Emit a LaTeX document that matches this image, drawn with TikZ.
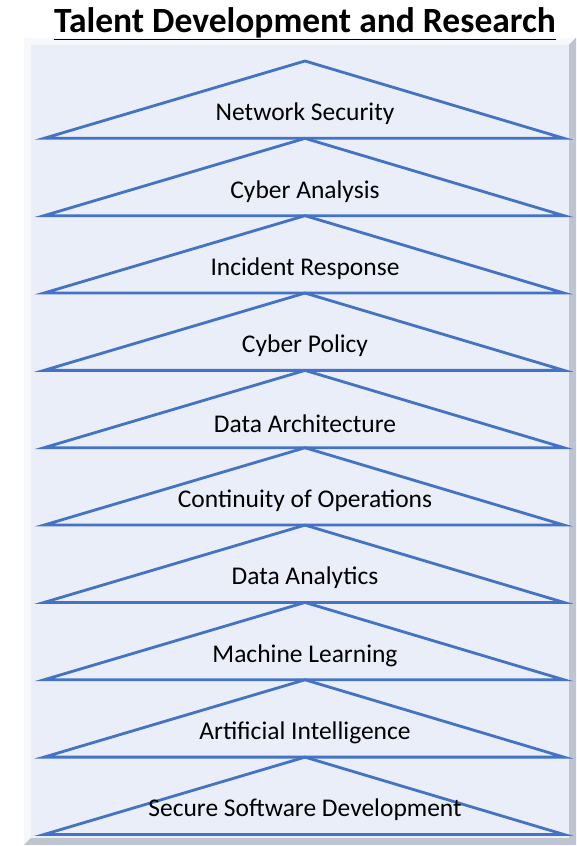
\documentclass[tikz,border=0pt]{standalone}
\usepackage{fontspec}
\setmainfont{Carlito}
\usetikzlibrary{positioning}

\definecolor{lineablue}{RGB}{68,114,196}
\definecolor{fondo}{RGB}{233,238,249}
\definecolor{bisel}{RGB}{190,196,208}
\definecolor{biselclaro}{RGB}{246,248,252}

\begin{document}
\begin{tikzpicture}[x=1pt,y=1pt,node distance=77.35pt,
                  tri/.style={draw=lineablue,line width=2.8pt,line join=miter},
                  etiqueta/.style={font=\fontsize{25.5}{27}\selectfont,inner sep=0pt}]
                  \useasboundingbox (0,0) rectangle (576,846);

                  % Marco con bisel.
                  \fill[bisel!80!black] (24,1) rectangle (576,808);
                  \fill[biselclaro] (24,1) -- (24,808) -- (576,808) -- (569,801) -- (31,801) -- (31,8) -- cycle;
                  \fill[bisel] (576,808) -- (576,1) -- (24,1) -- (31,8) -- (569,8) -- (569,801) -- cycle;
                  \fill[fondo] (31,8) rectangle (569,801);

                  % Titulo.
                  \node[font=\fontsize{35.5}{38}\selectfont\bfseries,inner sep=0pt,anchor=base] (titulo)
                  at (305,813.5) {\underline{Talent Development and Research}};

                  % Triangulos, de arriba hacia abajo.
                  \draw[tri] (44,707.65) -- (305,785) -- (564,707.65) -- cycle;
                  \draw[tri] (44,630.3) -- (305,707.65) -- (564,630.3) -- cycle;
                  \draw[tri] (44,552.95) -- (305,630.3) -- (564,552.95) -- cycle;
                  \draw[tri] (44,475.6) -- (305,552.95) -- (564,475.6) -- cycle;
                  \draw[tri] (44,398.25) -- (305,475.6) -- (564,398.25) -- cycle;
                  \draw[tri] (44,320.9) -- (305,398.25) -- (564,320.9) -- cycle;
                  \draw[tri] (44,243.55) -- (305,320.9) -- (564,243.55) -- cycle;
                  \draw[tri] (44,166.2) -- (305,243.55) -- (564,166.2) -- cycle;
                  \draw[tri] (44,88.85) -- (305,166.2) -- (564,88.85) -- cycle;
                  \draw[tri] (44,11.5) -- (305,88.85) -- (564,11.5) -- cycle;

                  % Etiquetas de cada nivel.
                  \node[etiqueta] (red) at (305,732) {Network Security};
                  \node[etiqueta, below of=red] (analisis) {Cyber Analysis};
                  \node[etiqueta, below of=analisis] (incidente) {Incident Response};
                  \node[etiqueta, below of=incidente] (politica) {Cyber Policy};
                  \node[etiqueta, below of=politica] (arquitectura) {Data Architecture};
                  \node[etiqueta, below of=arquitectura] (continuidad) {Continuity of Operations};
                  \node[etiqueta, below of=continuidad] (analitica) {Data Analytics};
                  \node[etiqueta, below of=analitica] (aprendizaje) {Machine Learning};
                  \node[etiqueta, below of=aprendizaje] (ia) {Artificial Intelligence};
                  \node[etiqueta, below of=ia] (software) {Secure Software Development};

                \end{tikzpicture}
\end{document}
